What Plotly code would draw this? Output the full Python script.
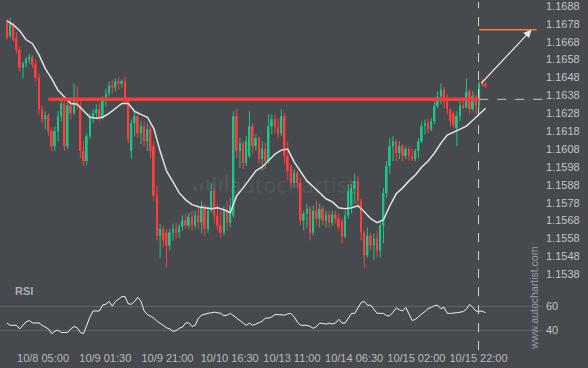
import plotly.graph_objects as go

# ---------------- data ----------------
tick_labels = ["10/8 05:00", "10/9 01:30", "10/9 21:00", "10/10 16:30",
               "10/13 11:00", "10/14 06:30", "10/15 02:00", "10/15 22:00"]
tick_bars = [11.3, 30.8, 50.3, 69.8, 89.3, 108.8, 128.3, 147.8]

open_ = [1.16791, 1.16713, 1.16780, 1.16702, 1.16635, 1.16535, 1.16558, 1.16585, 1.16596, 1.16552,
         1.16480, 1.16302, 1.16246, 1.16269, 1.16180, 1.16096, 1.16180, 1.16263, 1.16335, 1.16096,
         1.16324, 1.16280, 1.16346, 1.16324, 1.16069, 1.16013, 1.16152, 1.16258, 1.16280, 1.16302,
         1.16258, 1.16358, 1.16391, 1.16435, 1.16424, 1.16458, 1.16446, 1.16458, 1.16346, 1.16069,
         1.16224, 1.16263, 1.16169, 1.16208, 1.16124, 1.16191, 1.16096, 1.15819, 1.15596, 1.15635,
         1.15613, 1.15541, 1.15613, 1.15635, 1.15613, 1.15646, 1.15680, 1.15652, 1.15702, 1.15652,
         1.15708, 1.15669, 1.15758, 1.15635, 1.15735, 1.15846, 1.15708, 1.15652, 1.15613, 1.15735,
         1.15669, 1.15708, 1.16263, 1.16069, 1.16113, 1.16002, 1.16041, 1.16208, 1.16096, 1.16141,
         1.16024, 1.16080, 1.16013, 1.16208, 1.16246, 1.16202, 1.16169, 1.16263, 1.16041, 1.15985,
         1.15891, 1.15946, 1.15891, 1.15680, 1.15719, 1.15746, 1.15613, 1.15735, 1.15691, 1.15746,
         1.15680, 1.15713, 1.15669, 1.15713, 1.15691, 1.15680, 1.15591, 1.15708, 1.15763, 1.15858,
         1.15902, 1.15791, 1.15613, 1.15485, 1.15596, 1.15541, 1.15580, 1.15513, 1.15652, 1.15835,
         1.15985, 1.16096, 1.16124, 1.16058, 1.16096, 1.16041, 1.16080, 1.16041, 1.16024, 1.16069,
         1.16124, 1.16208, 1.16224, 1.16191, 1.16235, 1.16319, 1.16374, 1.16413, 1.16346, 1.16302,
         1.16280, 1.16196, 1.16263, 1.16324, 1.16313, 1.16402, 1.16302, 1.16374, 1.16319, 1.16458,
         1.16446]
high = [1.16808, 1.16813, 1.16791, 1.16735, 1.16652, 1.16569, 1.16596, 1.16613, 1.16602, 1.16580,
        1.16502, 1.16324, 1.16291, 1.16280, 1.16202, 1.16208, 1.16291, 1.16363, 1.16346, 1.16346,
        1.16358, 1.16446, 1.16430, 1.16346, 1.16124, 1.16169, 1.16280, 1.16302, 1.16330, 1.16335,
        1.16374, 1.16419, 1.16458, 1.16469, 1.16474, 1.16480, 1.16469, 1.16485, 1.16358, 1.16246,
        1.16291, 1.16291, 1.16235, 1.16235, 1.16224, 1.16219, 1.16124, 1.15874, 1.15663, 1.15652,
        1.15635, 1.15635, 1.15663, 1.15669, 1.15663, 1.15708, 1.15719, 1.15724, 1.15735, 1.15735,
        1.15763, 1.15791, 1.15774, 1.15763, 1.15891, 1.15858, 1.15774, 1.15735, 1.15763, 1.15791,
        1.15808, 1.16291, 1.16308, 1.16141, 1.16124, 1.16152, 1.16291, 1.16224, 1.16163, 1.16152,
        1.16124, 1.16113, 1.16274, 1.16274, 1.16274, 1.16252, 1.16302, 1.16280, 1.16124, 1.15996,
        1.15969, 1.15958, 1.15919, 1.15735, 1.15774, 1.15763, 1.15763, 1.15791, 1.15774, 1.15763,
        1.15735, 1.15735, 1.15735, 1.15735, 1.15719, 1.15691, 1.15735, 1.15885, 1.15885, 1.15941,
        1.15930, 1.15802, 1.15624, 1.15641, 1.15613, 1.15608, 1.15624, 1.15680, 1.15863, 1.16013,
        1.16141, 1.16152, 1.16135, 1.16124, 1.16108, 1.16096, 1.16096, 1.16085, 1.16080, 1.16141,
        1.16235, 1.16246, 1.16252, 1.16252, 1.16346, 1.16402, 1.16446, 1.16424, 1.16385, 1.16308,
        1.16291, 1.16291, 1.16346, 1.16363, 1.16474, 1.16413, 1.16402, 1.16385, 1.16458, 1.16474,
        1.16452]
low = [1.16691, 1.16702, 1.16680, 1.16613, 1.16513, 1.16474, 1.16535, 1.16558, 1.16535, 1.16458,
       1.16274, 1.16224, 1.16191, 1.16152, 1.16069, 1.16069, 1.16124, 1.16235, 1.16069, 1.16080,
       1.16246, 1.16269, 1.16302, 1.16030, 1.15985, 1.15991, 1.16135, 1.16224, 1.16246, 1.16235,
       1.16246, 1.16319, 1.16374, 1.16391, 1.16402, 1.16413, 1.16424, 1.16330, 1.16113, 1.16024,
       1.16152, 1.16141, 1.16108, 1.16096, 1.16069, 1.16030, 1.15791, 1.15569, 1.15474, 1.15530,
       1.15419, 1.15513, 1.15569, 1.15580, 1.15585, 1.15624, 1.15635, 1.15635, 1.15624, 1.15635,
       1.15635, 1.15608, 1.15596, 1.15613, 1.15724, 1.15663, 1.15624, 1.15585, 1.15596, 1.15624,
       1.15641, 1.15696, 1.16030, 1.15974, 1.15969, 1.15985, 1.16030, 1.16052, 1.16069, 1.15996,
       1.15958, 1.15969, 1.16002, 1.16163, 1.16169, 1.16141, 1.16152, 1.15996, 1.15902, 1.15863,
       1.15863, 1.15858, 1.15652, 1.15624, 1.15635, 1.15569, 1.15596, 1.15652, 1.15641, 1.15652,
       1.15641, 1.15641, 1.15652, 1.15663, 1.15624, 1.15552, 1.15580, 1.15691, 1.15719, 1.15774,
       1.15752, 1.15569, 1.15419, 1.15474, 1.15513, 1.15458, 1.15474, 1.15474, 1.15552, 1.15808,
       1.15941, 1.16013, 1.16013, 1.16024, 1.16013, 1.16024, 1.16013, 1.16013, 1.16013, 1.16030,
       1.16113, 1.16163, 1.16169, 1.16180, 1.16219, 1.16308, 1.16330, 1.16308, 1.16274, 1.16208,
       1.16196, 1.16096, 1.16235, 1.16302, 1.16308, 1.16274, 1.16291, 1.16274, 1.16313, 1.16430,
       1.16424]
close = [1.16702, 1.16791, 1.16691, 1.16635, 1.16535, 1.16558, 1.16585, 1.16596, 1.16552, 1.16480,
         1.16302, 1.16246, 1.16269, 1.16180, 1.16096, 1.16180, 1.16263, 1.16335, 1.16096, 1.16324,
         1.16280, 1.16346, 1.16324, 1.16069, 1.16013, 1.16152, 1.16258, 1.16280, 1.16302, 1.16258,
         1.16358, 1.16391, 1.16435, 1.16424, 1.16458, 1.16446, 1.16458, 1.16346, 1.16135, 1.16224,
         1.16263, 1.16169, 1.16208, 1.16124, 1.16191, 1.16069, 1.15819, 1.15596, 1.15635, 1.15569,
         1.15541, 1.15613, 1.15635, 1.15613, 1.15646, 1.15680, 1.15652, 1.15702, 1.15652, 1.15708,
         1.15669, 1.15758, 1.15635, 1.15735, 1.15846, 1.15708, 1.15652, 1.15613, 1.15735, 1.15669,
         1.15763, 1.16263, 1.16069, 1.16113, 1.16002, 1.16124, 1.16208, 1.16096, 1.16141, 1.16024,
         1.16080, 1.16013, 1.16208, 1.16246, 1.16202, 1.16169, 1.16263, 1.16041, 1.15958, 1.15891,
         1.15946, 1.15891, 1.15680, 1.15719, 1.15746, 1.15613, 1.15735, 1.15691, 1.15746, 1.15680,
         1.15713, 1.15669, 1.15713, 1.15691, 1.15646, 1.15591, 1.15708, 1.15846, 1.15858, 1.15902,
         1.15791, 1.15613, 1.15485, 1.15596, 1.15541, 1.15580, 1.15513, 1.15652, 1.15835, 1.15985,
         1.16096, 1.16124, 1.16058, 1.16096, 1.16041, 1.16080, 1.16041, 1.16024, 1.16069, 1.16124,
         1.16208, 1.16224, 1.16191, 1.16235, 1.16319, 1.16374, 1.16413, 1.16346, 1.16302, 1.16235,
         1.16213, 1.16263, 1.16324, 1.16313, 1.16402, 1.16302, 1.16374, 1.16319, 1.16446, 1.16441,
         1.16430]

# moving average read every second bar (bars 0, 2, 4, ... 150)
ma_values = [1.16796, 1.16774, 1.16741, 1.16691, 1.16669, 1.16608, 1.16530, 1.16474, 1.16408, 1.16369,
             1.16335, 1.16330, 1.16291, 1.16258, 1.16252, 1.16258, 1.16280, 1.16308, 1.16335, 1.16335,
             1.16291, 1.16274, 1.16258, 1.16196, 1.16069, 1.15958, 1.15896, 1.15835, 1.15796, 1.15769,
             1.15758, 1.15752, 1.15746, 1.15752, 1.15741, 1.15724, 1.15819, 1.15863, 1.15908, 1.15958,
             1.15980, 1.16019, 1.16052, 1.16074, 1.16080, 1.16008, 1.15952, 1.15902, 1.15869, 1.15835,
             1.15802, 1.15785, 1.15752, 1.15746, 1.15752, 1.15763, 1.15730, 1.15691, 1.15669, 1.15685,
             1.15763, 1.15830, 1.15863, 1.15902, 1.15935, 1.15980, 1.16013, 1.16058, 1.16113, 1.16158,
             1.16174, 1.16191, 1.16208, 1.16241, 1.16274, 1.16308]

rsi = [45.8, 44, 44, 44, 41, 44, 47, 48, 46, 46,
       46, 44, 42.5, 41, 37, 39, 40, 38, 38, 38,
       41, 43, 42, 38, 37, 44, 51, 56, 56, 56,
       61, 61.7, 64, 60, 64, 66, 68, 68, 62, 61.7,
       64, 67.5, 64, 56, 53, 51.7, 50, 47.5, 45.8, 43.5,
       42, 41, 39, 39.5, 41.5, 42.5, 46, 46, 43, 44,
       50, 52.5, 53.5, 54, 54.5, 55, 54.5, 54, 52, 52.5,
       54, 52, 50, 47.5, 45.5, 44, 45.8, 44, 45, 46,
       47.5, 50, 50, 51, 53, 53, 53, 52.5, 53.5, 54,
       51, 46.7, 44, 44, 44, 43, 41.5, 43, 45.8, 45.5,
       45, 45.8, 45, 46, 49, 45.8, 46, 50, 54, 54,
       58, 63, 64, 60.8, 60.8, 57, 54, 54, 54, 52,
       52, 55, 58.5, 57, 56, 59, 53, 48, 49, 51.5,
       53.5, 55.5, 58, 59, 60.5, 60.8, 58, 59, 54, 54,
       54, 54.5, 55, 55.5, 57.5, 61.5, 59, 55.8, 55.8, 55.8,
       54.5]

resistance_level = 1.16358
pattern_start_bar = 12.9
breakout_bar = 148.0
forecast_target = 1.16747
forecast_end_bar = 166.0
arrow_start_price = 1.16441
arrow_end_bar = 164.4
axis_end_bar = 168.0
price_ticks = [1.1538 + 0.001 * k for k in range(16)]
rsi_ticks = [40, 60]

# ---------------- figure ----------------
bars = list(range(len(close)))
ma_bars = bars[::2]

BG = "#46494d"
TXT = "#c2c4c7"
UP = "#1fc388"
DOWN = "#ff3e3e"
FONT = "Liberation Sans, Arial, sans-serif"

fig = go.Figure()

# candles: wicks as line segments, bodies as thin bars
for is_up, col in ((True, UP), (False, DOWN)):
    idx = [i for i in bars if (close[i] >= open_[i]) == is_up]
    wx, wy = [], []
    for i in idx:
        wx += [i, i, None]
        wy += [low[i], high[i], None]
    fig.add_trace(go.Scatter(x=wx, y=wy, mode="lines", line=dict(color=col, width=1),
                             showlegend=False, hoverinfo="skip", xaxis="x", yaxis="y"))
    fig.add_trace(go.Bar(x=idx,
                         y=[max(abs(close[i] - open_[i]), 0.00003) for i in idx],
                         base=[min(close[i], open_[i]) for i in idx],
                         width=0.55, marker=dict(color=col, line=dict(width=0)),
                         showlegend=False, xaxis="x", yaxis="y"))

fig.add_trace(go.Scatter(x=ma_bars, y=ma_values, mode="lines",
                         line=dict(color="#e2e2e2", width=1.5),
                         showlegend=False, xaxis="x", yaxis="y"))
fig.add_trace(go.Scatter(x=bars, y=rsi, mode="lines",
                         line=dict(color="#f0f0f0", width=1),
                         showlegend=False, xaxis="x", yaxis="y2"))

shapes = [
    dict(type="line", xref="x", yref="y", x0=pattern_start_bar, x1=breakout_bar,
         y0=resistance_level, y1=resistance_level, line=dict(color="#f83b3b", width=3.5)),
    dict(type="line", xref="x", yref="y", x0=breakout_bar, x1=axis_end_bar,
         y0=resistance_level, y1=resistance_level,
         line=dict(color="#c9c9c9", width=1, dash="dash")),
    dict(type="line", xref="x", yref="paper", x0=tick_bars[-1], x1=tick_bars[-1],
         y0=-0.015, y1=1, line=dict(color="#d6d6d6", width=1, dash="dash")),
    dict(type="line", xref="x", yref="y", x0=breakout_bar, x1=forecast_end_bar,
         y0=forecast_target, y1=forecast_target, line=dict(color="#ff7f2a", width=1.5)),
]
# faint logo bars of the watermark
for i, h in enumerate([0.012, 0.022, 0.032, 0.040, 0.030, 0.046]):
    x0 = 0.357 + i * 0.0115
    shapes.append(dict(type="rect", xref="paper", yref="paper",
                       x0=x0, x1=x0 + 0.006, y0=0.45, y1=0.45 + h,
                       line=dict(width=0), fillcolor="rgba(255,255,255,0.07)"))

annotations = [
    dict(x=arrow_end_bar, y=forecast_target, ax=breakout_bar + 0.3, ay=arrow_start_price,
         xref="x", yref="y", axref="x", ayref="y", showarrow=True, text="",
         arrowhead=2, arrowsize=1.3, arrowwidth=1.2, arrowcolor="#e8e8e8"),
    dict(x=0.024, y=0.18, xref="paper", yref="paper", text="<b>RSI</b>", showarrow=False,
         xanchor="left", yanchor="top", font=dict(size=11, color="#a9acb1", family=FONT)),
    dict(x=1.0, y=0.135, xref="paper", yref="paper", text="www.autochartist.com",
         showarrow=False, textangle=-90, xanchor="right", yanchor="middle", xshift=-1,
         font=dict(size=10.5, color="#9a9da2", family=FONT)),
    dict(x=0.418, y=0.465, xref="paper", yref="paper", text="autochartist",
         showarrow=False, xanchor="left", yanchor="middle",
         font=dict(size=21, color="rgba(255,255,255,0.07)", family="DejaVu Sans")),
]

fig.update_layout(
    width=588, height=368,
    margin=dict(l=0, r=45, t=0, b=23),
    paper_bgcolor=BG, plot_bgcolor=BG,
    font=dict(family=FONT, size=11, color=TXT),
    showlegend=False, barmode="overlay",
    xaxis=dict(range=[-2.19, axis_end_bar], anchor="y2", tickmode="array",
               tickvals=tick_bars, ticktext=tick_labels, showgrid=False, zeroline=False,
               showline=False, ticks="",
               tickfont=dict(size=11, color="#b9bbbe"), ticklabelstandoff=5),
    yaxis=dict(domain=[0.19, 1], range=[1.15349, 1.16902], side="right", anchor="x",
               tickmode="array", tickvals=price_ticks,
               ticktext=["%.4f" % v for v in price_ticks],
               showgrid=False, zeroline=False, showline=False, ticks="",
               ticklabeloverflow="allow",
               tickfont=dict(size=11, color=TXT), ticklabelstandoff=2),
    yaxis2=dict(domain=[0, 0.18], range=[27.5, 79.2], side="right", anchor="x",
                tickmode="array", tickvals=rsi_ticks, ticktext=[str(v) for v in rsi_ticks],
                showgrid=True, gridcolor="#5e6165", gridwidth=1, zeroline=False,
                showline=False, ticks="", tickfont=dict(size=11, color=TXT),
                ticklabelstandoff=2),
    shapes=shapes, annotations=annotations,
)

fig.write_html("out.html", config={"displayModeBar": False},
               post_script="document.body.style.margin='0px';")
